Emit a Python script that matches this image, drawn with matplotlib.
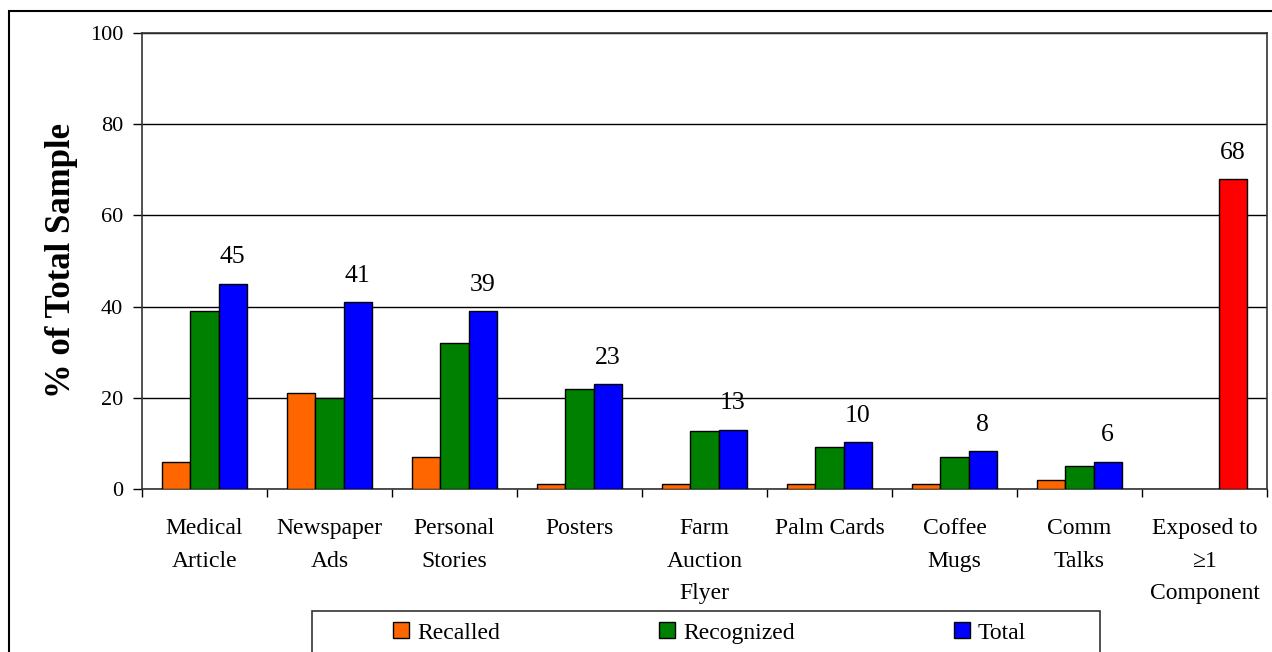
import matplotlib
matplotlib.use('Agg')
import matplotlib.pyplot as plt
from matplotlib.patches import Rectangle, Patch

plt.rcParams['font.family'] = ['Liberation Serif', 'DejaVu Serif']

categories = ['Medical\nArticle', 'Newspaper\nAds', 'Personal\nStories', 'Posters',
              'Farm\nAuction\nFlyer', 'Palm Cards', 'Coffee\nMugs', 'Comm\nTalks',
              'Exposed to\n\u22651\nComponent']
recalled = [6, 21, 7, 1, 1, 1, 1, 2]
recognized = [39, 20, 32, 22, 12.7, 9.2, 7, 5]
total = [45, 41, 39, 23, 13, 10.3, 8.3, 6, 68]
total_labels = ['45', '41', '39', '23', '13', '10', '8', '6', '68']

c_rec = '#FF6600'
c_recog = '#008000'
c_tot = '#0000FF'
c_exp = '#FF0000'

W, H = 1272, 652
fig = plt.figure(figsize=(W / 100, H / 100), dpi=100)
ax = fig.add_axes([142 / W, 1 - 489 / H, (1267 - 142) / W, (489 - 33) / H])

bw = 0.225
n = len(recalled)
x_main = list(range(n))
ax.bar([x - bw for x in x_main], recalled, bw, color=c_rec, edgecolor='black', lw=1, zorder=3)
ax.bar(x_main, recognized, bw, color=c_recog, edgecolor='black', lw=1, zorder=3)
tot_colors = [c_tot] * n + [c_exp]
xs_tot = [x + bw for x in range(len(total))]
ax.bar(xs_tot, total, bw, color=tot_colors, edgecolor='black', lw=1, zorder=3)

for x, v, s in zip(xs_tot, total, total_labels):
    ax.annotate(s, (x, v), xytext=(0, 19), textcoords='offset points',
                ha='center', va='center', fontsize=18.5)

ax.set_xlim(-0.5, len(categories) - 0.5)
ax.set_ylim(0, 100)
ax.set_yticks([0, 20, 40, 60, 80, 100])
ax.yaxis.grid(True, color='black', lw=1, zorder=0)
ax.tick_params(axis='y', direction='out', length=6.5, width=1, pad=7, labelsize=16)

# boundary ticks (major), labels at category centres (minor)
ax.set_xticks([i - 0.5 for i in range(len(categories) + 1)])
ax.set_xticklabels([])
ax.set_xticks(range(len(categories)), minor=True)
ax.set_xticklabels(categories, minor=True, fontsize=17, linespacing=1.72, va='top')
ax.tick_params(axis='x', which='major', direction='out', length=6, width=1)
ax.tick_params(axis='x', which='minor', length=0, pad=21)

for sp in ax.spines.values():
    sp.set_color('#333333')
    sp.set_linewidth(1.2)

fig.text(62 / W, 1 - 261 / H, '% of Total Sample', rotation=90, ha='center', va='center',
         fontsize=25, fontweight='bold')

# legend entries, with the box drawn separately (it runs off the bottom)
handles = [Patch(facecolor=c_rec, edgecolor='black', label='Recalled'),
           Patch(facecolor=c_recog, edgecolor='black', label='Recognized'),
           Patch(facecolor=c_tot, edgecolor='black', label='Total')]
fig.legend(handles=handles, loc='center left', ncol=3,
           bbox_to_anchor=(393 / W, 1 - 633 / H), fontsize=17, frameon=False,
           handlelength=0.68, handleheight=0.64, handletextpad=0.34,
           columnspacing=6.74, borderpad=0, borderaxespad=0)
fig.patches.append(Rectangle((312 / W, -0.1), (1100 - 312) / W, 1 - 611 / H + 0.1,
                             transform=fig.transFigure, fill=False,
                             edgecolor='#333333', lw=1.2))

fig.patches.append(Rectangle((9 / W, -0.1), 1.2, 1 - 11 / H + 0.1, transform=fig.transFigure,
                             fill=False, edgecolor='black', lw=1.5))

fig.savefig('out.png', dpi=100)
